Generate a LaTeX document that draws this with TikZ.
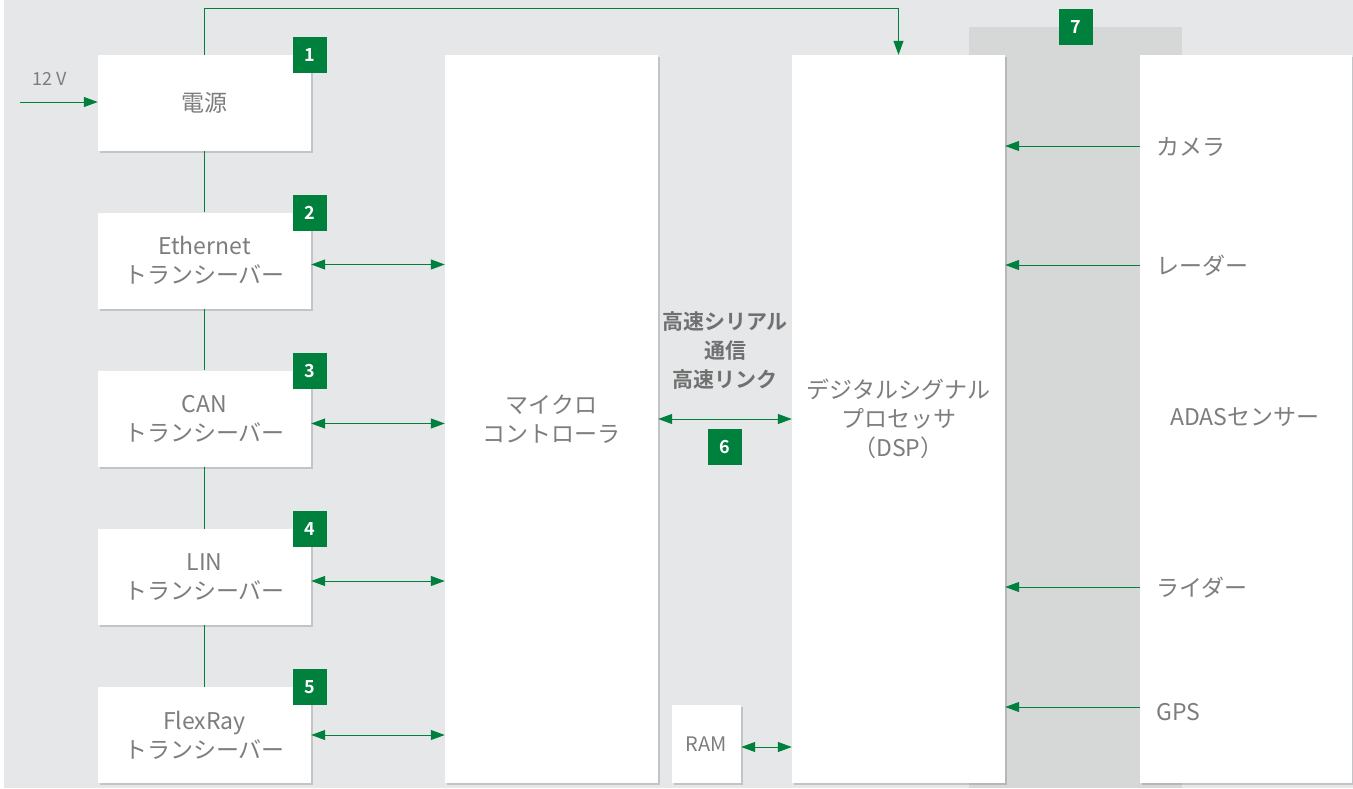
\documentclass[tikz,border=0pt]{standalone}
\usepackage{fontspec}
\setmainfont{Noto Sans CJK JP}[BoldFont={Noto Sans CJK JP Bold}]
\usetikzlibrary{arrows.meta,shadows}
\definecolor{bg}{HTML}{E6E7E8}
\definecolor{panel}{HTML}{D6D8D8}
\definecolor{grn}{HTML}{00803D}
\definecolor{txt}{HTML}{7D7D7D}
\tikzset{
  box/.style={draw=none, fill=white, minimum width=213pt, minimum height=96pt, inner sep=0pt,
    align=center, text=txt, font=\fontsize{23}{29}\selectfont,
    drop shadow={shadow xshift=1.5pt, shadow yshift=-2pt, opacity=0.15, fill=black}},
  tall/.style={box, minimum height=728pt},
  badge/.style={fill=grn, minimum width=34pt, minimum height=36pt, inner sep=0pt,
    text=white, font=\fontsize{18}{18}\selectfont\bfseries},
  lbl/.style={text=txt, font=\fontsize{23}{29}\selectfont, inner sep=0pt, align=center},
  conn/.style={draw=grn, line width=1pt},
  arr/.style={conn, -{Triangle[length=14pt,width=10pt]}},
  biarr/.style={conn, {Triangle[length=14pt,width=10pt]}-{Triangle[length=14pt,width=10pt]}},
}
\begin{document}
\begin{tikzpicture}[x=1pt,y=-1pt]
\useasboundingbox (0,0) rectangle (1353,788);
\fill[white] (0,0) rectangle (1353,788);
\fill[bg] (4,0) rectangle (1353,788);
\fill[panel] (969,27) rectangle (1182,788);

% left column
\node[box] (psu) at (204.5,103) {電源};
\node[box] (eth) at (204.5,260.5) {Ethernet\\トランシーバー};
\node[box] (can) at (204.5,418.5) {CAN\\トランシーバー};
\node[box] (lin) at (204.5,577) {LIN\\トランシーバー};
\node[box] (flx) at (204.5,735) {FlexRay\\トランシーバー};

% big boxes
\node[tall] (mcu) at (551.5,419) {マイクロ\\コントローラ};
\node[tall] (dsp) at (898.5,419) {デジタルシグナル\\プロセッサ\\（DSP）};
\node[tall, minimum width=212pt] (adas) at (1246,419) {};
\node[lbl] (adaslbl) at (1245,417) {ADASセンサー};
\node[box, minimum width=69pt, minimum height=78pt, font=\fontsize{20}{22}\selectfont] (ram) at (706.5,744) {RAM};

% badges
\node[badge] (b1) at (310,55) {1};
\node[badge] (b2) at (310,213) {2};
\node[badge] (b3) at (310,371) {3};
\node[badge] (b4) at (310,529) {4};
\node[badge] (b5) at (310,687) {5};
\node[badge] (b6) at (725,447) {6};
\node[badge] (b7) at (1076,27) {7};

% labels
\node[lbl, font=\fontsize{18}{20}\selectfont] (v12) at (50,79) {12 V};
\coordinate (vin) at (20,102);
\node[lbl, text=txt!90!black, font=\fontsize{21}{29}\selectfont\bfseries] (hs) at (725,351) {高速シリアル\\通信\\高速リンク};
\node[lbl, anchor=west] (cam) at (1156,147) {カメラ};
\node[lbl, anchor=west] (rad) at (1156,266) {レーダー};
\node[lbl, anchor=west] (lid) at (1156,588) {ライダー};
\node[lbl, anchor=west] (gps) at (1156,712) {GPS};
\coordinate (topy) at (0,8);

% connectors
\draw[arr] (vin) -- (vin -| psu.west);
\draw[arr] (psu.north) |- (topy -| dsp.north) -- (dsp.north);
\draw[conn] (psu.south) -- (eth.north);
\draw[conn] (eth.south) -- (can.north);
\draw[conn] (can.south) -- (lin.north);
\draw[conn] (lin.south) -- (flx.north);
\draw[biarr] ([yshift=-4pt]eth.east) -- ([yshift=-4pt]eth.east -| mcu.west);
\draw[biarr] ([yshift=-5pt]can.east) -- ([yshift=-5pt]can.east -| mcu.west);
\draw[biarr] ([yshift=-4pt]lin.east) -- ([yshift=-4pt]lin.east -| mcu.west);
\draw[biarr] (flx.east) -- (flx.east -| mcu.west);
\draw[biarr] (mcu.east) -- (dsp.west);
\draw[biarr] ([yshift=-3pt]ram.east) -- ([yshift=-3pt]ram.east -| dsp.west);
\draw[arr] ([yshift=1pt]adas.west |- cam.west) -- ([yshift=1pt]dsp.east |- cam.west);
\draw[arr] ([yshift=1pt]adas.west |- rad.west) -- ([yshift=1pt]dsp.east |- rad.west);
\draw[arr] ([yshift=1pt]adas.west |- lid.west) -- ([yshift=1pt]dsp.east |- lid.west);
\draw[arr] ([yshift=5pt]adas.west |- gps.west) -- ([yshift=5pt]dsp.east |- gps.west);
\end{tikzpicture}
\end{document}
